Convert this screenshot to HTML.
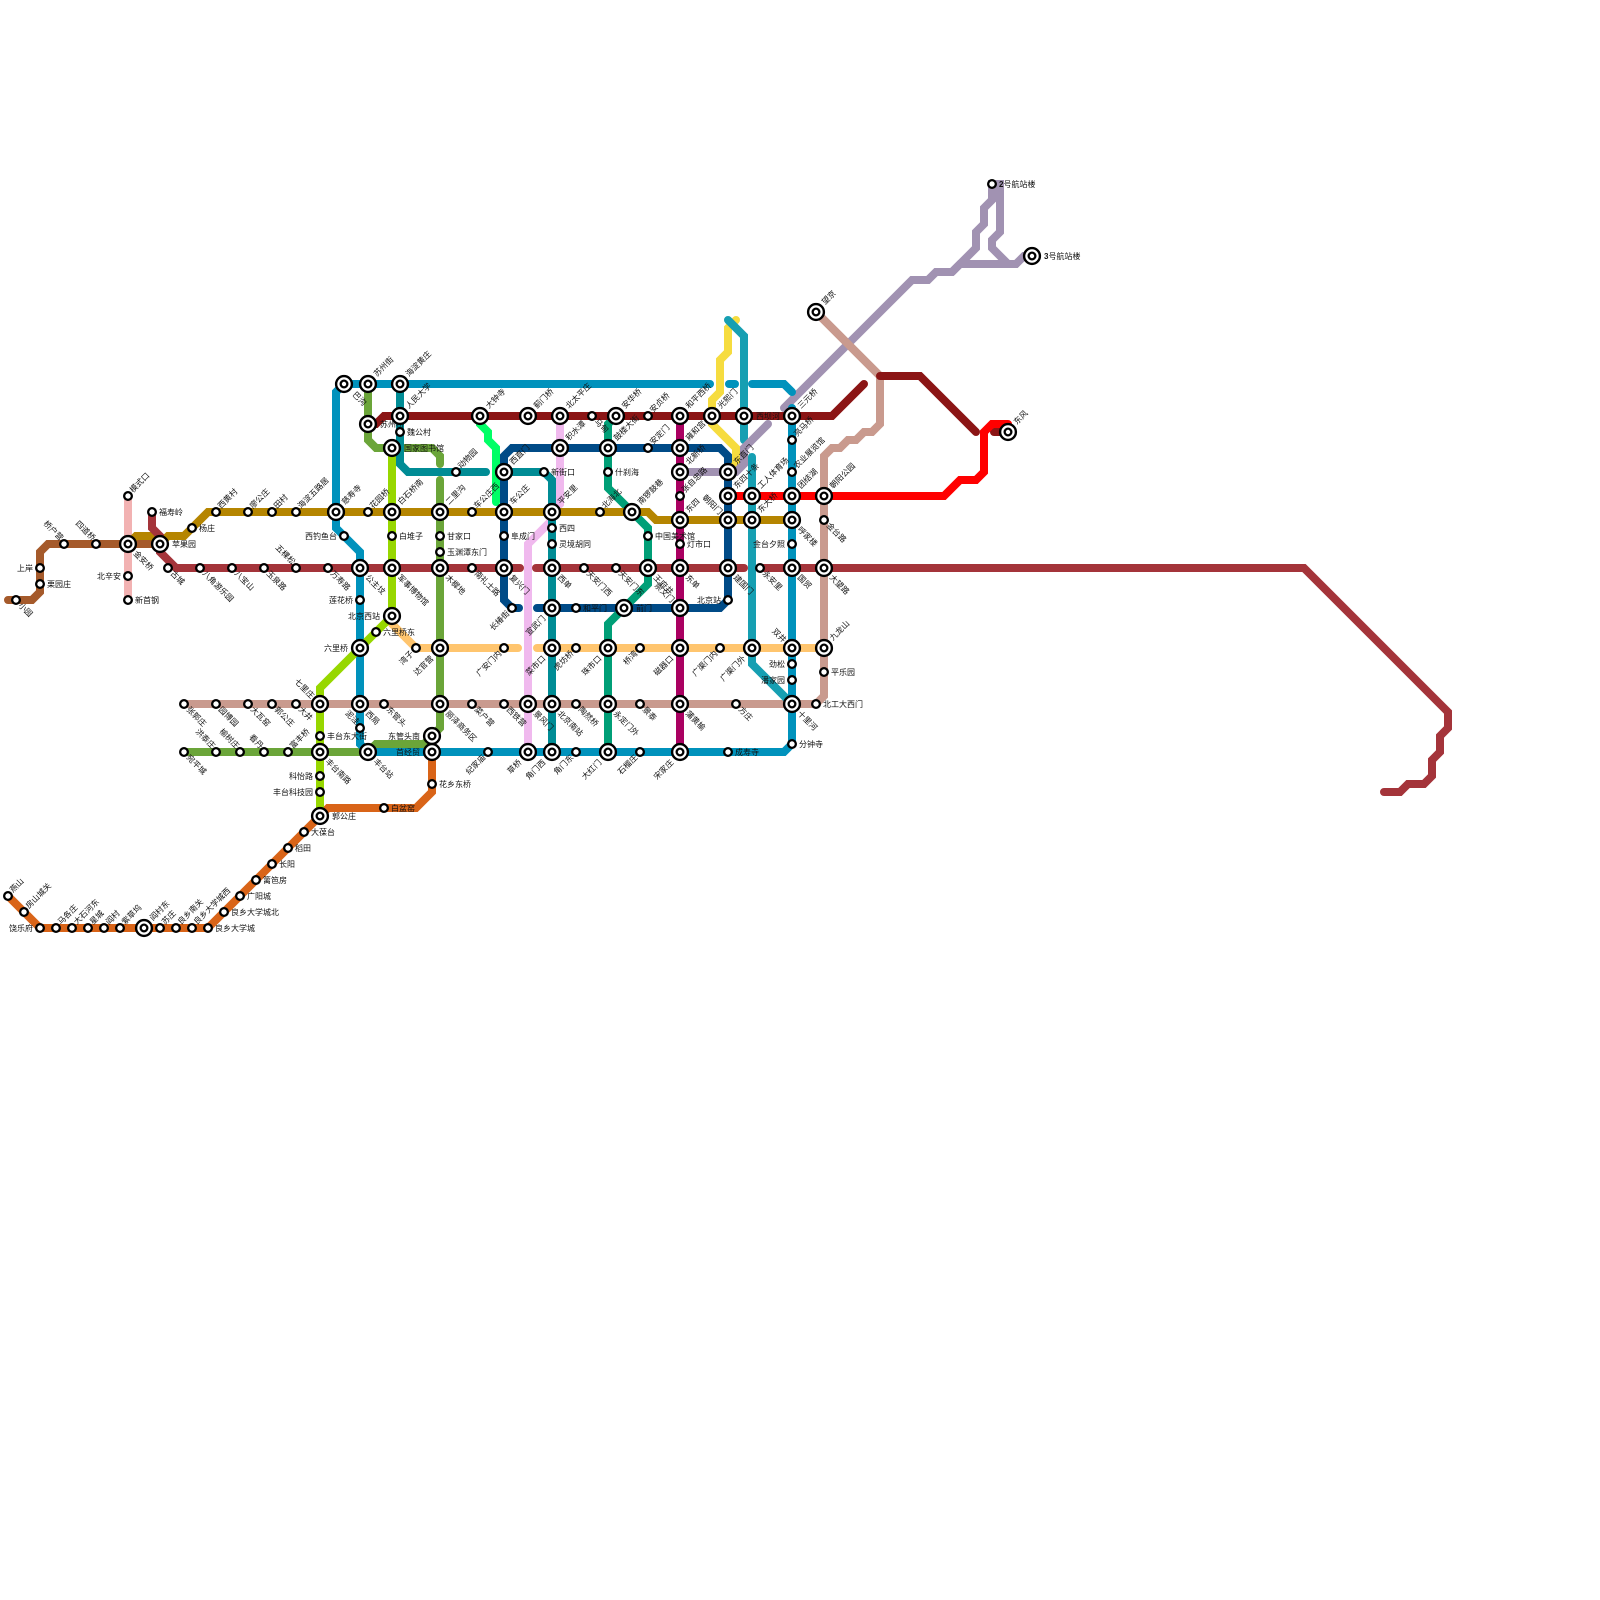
<!DOCTYPE html>
<html><head><meta charset="utf-8"><style>
html,body{margin:0;padding:0;background:#fff}
svg{display:block}
.l{fill:none;stroke-width:8;stroke-linecap:round;stroke-linejoin:miter}
text{font-family:"Liberation Sans","WenQuanYi Zen Hei","Noto Sans CJK SC",sans-serif;font-size:8px;fill:#111}
.e{text-anchor:end}
</style></head><body>
<svg width="1600" height="1600" viewBox="0 0 1600 1600" xmlns="http://www.w3.org/2000/svg">
<defs>
<g id="s"><circle r="3.85" fill="#fff" stroke="#000" stroke-width="2.3"/></g>
<g id="i"><circle r="7.9" fill="#fff" stroke="#000" stroke-width="2.4"/><circle r="3.35" fill="#fff" stroke="#000" stroke-width="2.3"/></g>
</defs>
<g class="lines">
<path class="l" stroke="#F2B2B2" d="M128 496V600"/>
<path class="l" stroke="#A55A2B" d="M8 600H32L40 592V552L48 544H160"/>
<path class="l" stroke="#D96418" d="M8 896L40 928H208L320 816"/>
<path class="l" stroke="#D96418" d="M320 816L328 808H416L432 792V736"/>
<path class="l" stroke="#6BA539" d="M368 384V440L376 448H432L440 456V464"/>
<path class="l" stroke="#6BA539" d="M440 480V728L432 736L424 744H376L368 752H184"/>
<path class="l" stroke="#FFC56E" d="M392 624L416 648H518"/>
<path class="l" stroke="#FFC56E" d="M537 648H824"/>
<path class="l" stroke="#C99A8E" d="M184 704H816L824 696V456L832 448H840L848 440H856L864 432H872L880 424V376L816 312"/>
<path class="l" stroke="#00FF66" d="M480 416V424L488 432V440L496 448V502"/>
<path class="l" stroke="#F0B9EE" d="M560 416V504L552 512V520L528 544V752"/>
<path class="l" stroke="#008C95" d="M400 384V464L408 472H486"/>
<path class="l" stroke="#008C95" d="M504 472H544L552 480V752"/>
<path class="l" stroke="#004B87" d="M512 608L504 600V456L512 448H720L728 456V600L720 608H537"/>
<path class="l" stroke="#004B87" d="M512 608H519"/>
<path class="l" stroke="#009F77" d="M616 416L608 424V488L648 528V584L608 624V752"/>
<path class="l" stroke="#AA0061" d="M680 416V752"/>
<path class="l" stroke="#F6DC3F" d="M736 320L728 328V352L720 360V392L712 400V424L736 448V464L728 472"/>
<path class="l" stroke="#169FB2" d="M728 320L744 336V440"/>
<path class="l" stroke="#169FB2" d="M752 457V664L792 704"/>
<path class="l" stroke="#A192B2" d="M680 472H736L744 464V448L768 424"/>
<path class="l" stroke="#A192B2" d="M784 408L912 280H928L936 272H952L976 248V232L984 224V208L992 200V184H1000V232L992 240V248L1008 264H1016L1024 256H1032"/>
<path class="l" stroke="#A192B2" d="M952 272L960 264H1016"/>
<path class="l" stroke="#C99A8E" d="M816 312L880 376"/>
<path class="l" stroke="#B58500" d="M128 544L136 536H152L160 544L168 536H184L208 512H648L656 520H792"/>
<path class="l" stroke="#A4343A" d="M152 512V528L160 536V552L176 568H520"/>
<path class="l" stroke="#A4343A" d="M536 568H744"/>
<path class="l" stroke="#A4343A" d="M760 568H1304L1448 712V728L1440 736V752L1432 760V776L1424 784H1408L1400 792H1384"/>
<path class="l" stroke="#8B1515" d="M368 424H376L384 416H832L864 384"/>
<path class="l" stroke="#8B1515" d="M880 376H920L976 432"/>
<path class="l" stroke="#8B1515" d="M994 432H1008"/>
<path class="l" stroke="#FF0000" d="M728 496H944L960 480H976L984 472V432L992 424H1008"/>
<path class="l" stroke="#0092BC" d="M344 384L336 392V528L360 552V744L368 752H784L792 744V408"/>
<path class="l" stroke="#0092BC" d="M344 384H710"/>
<path class="l" stroke="#0092BC" d="M729 384H735"/>
<path class="l" stroke="#0092BC" d="M752 384H784L792 392"/>
<path class="l" stroke="#97D700" d="M392 448V616L320 688V816"/>
</g>
<g class="labels">
<text transform="translate(18 606)rotate(45)">小园</text>
<text class="e" x="33" y="571">上岸</text>
<text x="47" y="587">栗园庄</text>
<text class="e" transform="translate(60 541)rotate(45)">桥户营</text>
<text class="e" transform="translate(92 541)rotate(45)">四道桥</text>
<text transform="translate(133 554)rotate(45)">金安桥</text>
<text transform="translate(133 493)rotate(-45)">模式口</text>
<text class="e" x="121" y="579">北辛安</text>
<text x="135" y="603">新首钢</text>
<text x="159" y="515">福寿岭</text>
<text x="172" y="547">苹果园</text>
<text transform="translate(170 574)rotate(45)">古城</text>
<text x="199" y="531">杨庄</text>
<text transform="translate(221 509)rotate(-45)">西黄村</text>
<text transform="translate(253 509)rotate(-45)">廖公庄</text>
<text transform="translate(277 509)rotate(-45)">田村</text>
<text transform="translate(301 509)rotate(-45)">海淀五路居</text>
<text transform="translate(345 505)rotate(-45)">慈寿寺</text>
<text transform="translate(202 574)rotate(45)">八角游乐园</text>
<text transform="translate(234 574)rotate(45)">八宝山</text>
<text transform="translate(266 574)rotate(45)">玉泉路</text>
<text class="e" transform="translate(292 565)rotate(45)">五棵松</text>
<text transform="translate(330 574)rotate(45)">万寿路</text>
<text transform="translate(365 578)rotate(45)">公主坟</text>
<text transform="translate(397 578)rotate(45)">军事博物馆</text>
<text transform="translate(445 578)rotate(45)">木樨地</text>
<text transform="translate(474 574)rotate(45)">南礼士路</text>
<text transform="translate(509 578)rotate(45)">复兴门</text>
<text transform="translate(557 578)rotate(45)">西单</text>
<text transform="translate(586 574)rotate(45)">天安门西</text>
<text transform="translate(618 574)rotate(45)">天安门东</text>
<text transform="translate(653 578)rotate(45)">王府井</text>
<text transform="translate(685 578)rotate(45)">东单</text>
<text transform="translate(733 578)rotate(45)">建国门</text>
<text transform="translate(762 574)rotate(45)">永安里</text>
<text transform="translate(797 578)rotate(45)">国贸</text>
<text transform="translate(829 578)rotate(45)">大望路</text>
<text transform="translate(352 395)rotate(45)">巴沟</text>
<text transform="translate(377 377)rotate(-45)">苏州街</text>
<text transform="translate(409 377)rotate(-45)">海淀黄庄</text>
<text x="380" y="427">苏州桥</text>
<text transform="translate(409 409)rotate(-45)">人民大学</text>
<text x="407" y="435">魏公村</text>
<text x="404" y="451">国家图书馆</text>
<text transform="translate(461 469)rotate(-45)">动物园</text>
<text transform="translate(401 505)rotate(-45)">白石桥南</text>
<text transform="translate(373 509)rotate(-45)">花园桥</text>
<text transform="translate(449 505)rotate(-45)">二里沟</text>
<text transform="translate(477 509)rotate(-45)">车公庄西</text>
<text transform="translate(513 505)rotate(-45)">车公庄</text>
<text x="399" y="539">白堆子</text>
<text x="447" y="539">甘家口</text>
<text x="447" y="555">玉渊潭东门</text>
<text x="511" y="539">阜成门</text>
<text class="e" x="337" y="539">西钓鱼台</text>
<text transform="translate(489 409)rotate(-45)">大钟寺</text>
<text transform="translate(537 409)rotate(-45)">蓟门桥</text>
<text transform="translate(513 465)rotate(-45)">西直门</text>
<text transform="translate(569 409)rotate(-45)">北太平庄</text>
<text transform="translate(569 441)rotate(-45)">积水潭</text>
<text x="551" y="475">新街口</text>
<text transform="translate(561 505)rotate(-45)">平安里</text>
<text x="559" y="531">西四</text>
<text x="559" y="547">灵境胡同</text>
<text transform="translate(594 422)rotate(45)">马甸</text>
<text transform="translate(625 409)rotate(-45)">安华桥</text>
<text transform="translate(653 413)rotate(-45)">安贞桥</text>
<text transform="translate(689 409)rotate(-45)">和平西桥</text>
<text transform="translate(721 409)rotate(-45)">光熙门</text>
<text x="756" y="419">西坝河</text>
<text transform="translate(801 409)rotate(-45)">三元桥</text>
<text transform="translate(617 441)rotate(-45)">鼓楼大街</text>
<text x="615" y="475">什刹海</text>
<text transform="translate(653 445)rotate(-45)">安定门</text>
<text transform="translate(689 441)rotate(-45)">雍和宫</text>
<text transform="translate(689 465)rotate(-45)">北新桥</text>
<text transform="translate(737 465)rotate(-45)">东直门</text>
<text transform="translate(797 437)rotate(-45)">亮马桥</text>
<text transform="translate(797 469)rotate(-45)">农业展览馆</text>
<text transform="translate(685 493)rotate(-45)">张自忠路</text>
<text transform="translate(689 513)rotate(-45)">东四</text>
<text class="e" transform="translate(719 515)rotate(45)">朝阳门</text>
<text transform="translate(737 489)rotate(-45)">东四十条</text>
<text transform="translate(761 489)rotate(-45)">工人体育场</text>
<text transform="translate(761 513)rotate(-45)">东大桥</text>
<text transform="translate(801 489)rotate(-45)">团结湖</text>
<text transform="translate(797 530)rotate(45)">呼家楼</text>
<text transform="translate(833 489)rotate(-45)">朝阳公园</text>
<text transform="translate(826 526)rotate(45)">金台路</text>
<text class="e" x="785" y="547">金台夕照</text>
<text transform="translate(825 305)rotate(-45)">望京</text>
<text transform="translate(641 505)rotate(-45)">南锣鼓巷</text>
<text transform="translate(605 509)rotate(-45)">北海北</text>
<text x="655" y="539">中国美术馆</text>
<text x="687" y="547">灯市口</text>
<text class="e" x="721" y="603">北京站</text>
<text class="e" transform="translate(671 603)rotate(45)">崇文门</text>
<text x="636" y="611">前门</text>
<text x="583" y="611">和平门</text>
<text class="e" transform="translate(546 619)rotate(-45)">宣武门</text>
<text class="e" transform="translate(510 614)rotate(-45)">长椿街</text>
<text class="e" transform="translate(546 659)rotate(-45)">菜市口</text>
<text class="e" transform="translate(574 654)rotate(-45)">虎坊桥</text>
<text class="e" transform="translate(602 659)rotate(-45)">珠市口</text>
<text class="e" transform="translate(638 654)rotate(-45)">桥湾</text>
<text class="e" transform="translate(674 659)rotate(-45)">磁器口</text>
<text class="e" transform="translate(718 654)rotate(-45)">广渠门内</text>
<text class="e" transform="translate(746 659)rotate(-45)">广渠门外</text>
<text class="e" transform="translate(783 643)rotate(45)">双井</text>
<text transform="translate(833 641)rotate(-45)">九龙山</text>
<text class="e" transform="translate(502 654)rotate(-45)">广安门内</text>
<text class="e" transform="translate(434 659)rotate(-45)">达官营</text>
<text class="e" transform="translate(414 654)rotate(-45)">湾子</text>
<text x="383" y="635">六里桥东</text>
<text class="e" x="348" y="651">六里桥</text>
<text class="e" x="380" y="619">北京西站</text>
<text class="e" x="353" y="603">莲花桥</text>
<text class="e" x="785" y="667">劲松</text>
<text class="e" x="785" y="683">潘家园</text>
<text x="831" y="675">平乐园</text>
<text x="823" y="707">北工大西门</text>
<text transform="translate(797 714)rotate(45)">十里河</text>
<text transform="translate(738 710)rotate(45)">方庄</text>
<text x="799" y="747">分钟寺</text>
<text x="735" y="755">成寿寺</text>
<text transform="translate(685 714)rotate(45)">蒲黄榆</text>
<text transform="translate(642 710)rotate(45)">景泰</text>
<text transform="translate(613 714)rotate(45)">永定门外</text>
<text transform="translate(578 710)rotate(45)">陶然桥</text>
<text transform="translate(557 714)rotate(45)">北京南站</text>
<text transform="translate(533 714)rotate(45)">景风门</text>
<text transform="translate(506 710)rotate(45)">西铁营</text>
<text transform="translate(474 710)rotate(45)">菜户营</text>
<text transform="translate(445 714)rotate(45)">丽泽商务区</text>
<text transform="translate(386 710)rotate(45)">东管头</text>
<text transform="translate(365 714)rotate(45)">西局</text>
<text class="e" transform="translate(356 725)rotate(45)">泥洼</text>
<text class="e" transform="translate(311 699)rotate(45)">七里庄</text>
<text transform="translate(298 710)rotate(45)">大井</text>
<text transform="translate(274 710)rotate(45)">郭公庄</text>
<text transform="translate(250 710)rotate(45)">大瓦窑</text>
<text transform="translate(218 710)rotate(45)">园博园</text>
<text transform="translate(186 710)rotate(45)">张郭庄</text>
<text x="327" y="739">丰台东大街</text>
<text class="e" x="420" y="739">东管头南</text>
<text class="e" x="420" y="755">首经贸</text>
<text x="439" y="787">花乡东桥</text>
<text transform="translate(373 762)rotate(45)">丰台站</text>
<text transform="translate(325 762)rotate(45)">丰台南路</text>
<text transform="translate(293 749)rotate(-45)">富丰桥</text>
<text class="e" transform="translate(260 749)rotate(45)">看丹</text>
<text class="e" transform="translate(236 749)rotate(45)">榆树庄</text>
<text class="e" transform="translate(212 749)rotate(45)">洪泰庄</text>
<text transform="translate(186 758)rotate(45)">宛平城</text>
<text class="e" x="313" y="779">科怡路</text>
<text class="e" x="313" y="795">丰台科技园</text>
<text x="332" y="819">郭公庄</text>
<text x="391" y="811">白盆窑</text>
<text class="e" transform="translate(486 758)rotate(-45)">纪家庙</text>
<text class="e" transform="translate(522 763)rotate(-45)">草桥</text>
<text class="e" transform="translate(546 763)rotate(-45)">角门西</text>
<text class="e" transform="translate(574 758)rotate(-45)">角门东</text>
<text class="e" transform="translate(602 763)rotate(-45)">大红门</text>
<text class="e" transform="translate(638 758)rotate(-45)">石榴庄</text>
<text class="e" transform="translate(674 763)rotate(-45)">宋家庄</text>
<text x="311" y="835">大葆台</text>
<text x="295" y="851">稻田</text>
<text x="279" y="867">长阳</text>
<text x="263" y="883">篱笆房</text>
<text x="247" y="899">广阳城</text>
<text x="231" y="915">良乡大学城北</text>
<text x="215" y="931">良乡大学城</text>
<text transform="translate(197 925)rotate(-45)">良乡大学城西</text>
<text transform="translate(181 925)rotate(-45)">良乡南关</text>
<text transform="translate(165 925)rotate(-45)">苏庄</text>
<text transform="translate(153 921)rotate(-45)">阎村东</text>
<text transform="translate(125 925)rotate(-45)">紫草坞</text>
<text transform="translate(109 925)rotate(-45)">阎村</text>
<text transform="translate(93 925)rotate(-45)">星城</text>
<text transform="translate(77 925)rotate(-45)">大石河东</text>
<text transform="translate(61 925)rotate(-45)">马各庄</text>
<text class="e" x="33" y="931">饶乐府</text>
<text transform="translate(29 909)rotate(-45)">房山城关</text>
<text transform="translate(13 893)rotate(-45)">燕山</text>
<text x="999" y="187"><tspan font-weight="bold">2</tspan>号航站楼</text>
<text x="1044" y="259"><tspan font-weight="bold">3</tspan>号航站楼</text>
<text transform="translate(1017 425)rotate(-45)">东风</text>
</g>
<g class="stations">
<use href="#s" x="16" y="600"/><use href="#s" x="40" y="568"/><use href="#s" x="40" y="584"/><use href="#s" x="64" y="544"/><use href="#s" x="96" y="544"/>
<use href="#i" x="128" y="544"/><use href="#s" x="128" y="496"/><use href="#s" x="128" y="576"/><use href="#s" x="128" y="600"/>
<use href="#s" x="152" y="512"/><use href="#i" x="160" y="544"/><use href="#s" x="168" y="568"/><use href="#s" x="192" y="528"/>
<use href="#s" x="216" y="512"/><use href="#s" x="248" y="512"/><use href="#s" x="272" y="512"/><use href="#s" x="296" y="512"/><use href="#i" x="336" y="512"/><use href="#s" x="368" y="512"/><use href="#i" x="392" y="512"/><use href="#i" x="440" y="512"/><use href="#s" x="472" y="512"/><use href="#i" x="504" y="512"/><use href="#i" x="552" y="512"/><use href="#s" x="600" y="512"/><use href="#i" x="632" y="512"/>
<use href="#i" x="680" y="520"/><use href="#i" x="728" y="520"/><use href="#i" x="752" y="520"/><use href="#i" x="792" y="520"/><use href="#s" x="824" y="520"/>
<use href="#s" x="200" y="568"/><use href="#s" x="232" y="568"/><use href="#s" x="264" y="568"/><use href="#s" x="296" y="568"/><use href="#s" x="328" y="568"/><use href="#i" x="360" y="568"/><use href="#i" x="392" y="568"/><use href="#i" x="440" y="568"/><use href="#s" x="472" y="568"/><use href="#i" x="504" y="568"/><use href="#i" x="552" y="568"/><use href="#s" x="584" y="568"/><use href="#s" x="616" y="568"/><use href="#i" x="648" y="568"/><use href="#i" x="680" y="568"/><use href="#i" x="728" y="568"/><use href="#s" x="760" y="568"/><use href="#i" x="792" y="568"/><use href="#i" x="824" y="568"/>
<use href="#i" x="344" y="384"/><use href="#i" x="368" y="384"/><use href="#i" x="400" y="384"/><use href="#i" x="368" y="424"/><use href="#i" x="400" y="416"/><use href="#s" x="400" y="432"/><use href="#i" x="392" y="448"/>
<use href="#s" x="456" y="472"/><use href="#s" x="392" y="536"/><use href="#s" x="440" y="536"/><use href="#s" x="440" y="552"/><use href="#s" x="504" y="536"/><use href="#s" x="344" y="536"/>
<use href="#i" x="480" y="416"/><use href="#i" x="528" y="416"/><use href="#i" x="504" y="472"/><use href="#i" x="560" y="416"/><use href="#i" x="560" y="448"/><use href="#s" x="544" y="472"/><use href="#s" x="552" y="528"/><use href="#s" x="552" y="544"/>
<use href="#s" x="592" y="416"/><use href="#i" x="616" y="416"/><use href="#s" x="648" y="416"/><use href="#i" x="680" y="416"/><use href="#i" x="712" y="416"/><use href="#i" x="744" y="416"/><use href="#i" x="792" y="416"/>
<use href="#i" x="608" y="448"/><use href="#s" x="608" y="472"/><use href="#s" x="648" y="448"/><use href="#i" x="680" y="448"/><use href="#i" x="680" y="472"/><use href="#i" x="728" y="472"/><use href="#s" x="792" y="440"/><use href="#s" x="792" y="472"/><use href="#s" x="680" y="496"/>
<use href="#i" x="728" y="496"/><use href="#i" x="752" y="496"/><use href="#i" x="792" y="496"/><use href="#i" x="824" y="496"/><use href="#s" x="792" y="544"/><use href="#i" x="816" y="312"/>
<use href="#s" x="648" y="536"/><use href="#s" x="680" y="544"/><use href="#s" x="728" y="600"/><use href="#i" x="680" y="608"/><use href="#i" x="624" y="608"/><use href="#s" x="576" y="608"/><use href="#i" x="552" y="608"/><use href="#s" x="512" y="608"/>
<use href="#i" x="552" y="648"/><use href="#s" x="576" y="648"/><use href="#i" x="608" y="648"/><use href="#s" x="640" y="648"/><use href="#i" x="680" y="648"/><use href="#s" x="720" y="648"/><use href="#i" x="752" y="648"/><use href="#i" x="792" y="648"/><use href="#i" x="824" y="648"/><use href="#s" x="504" y="648"/><use href="#i" x="440" y="648"/><use href="#s" x="416" y="648"/><use href="#s" x="376" y="632"/><use href="#i" x="360" y="648"/><use href="#i" x="392" y="616"/><use href="#s" x="360" y="600"/>
<use href="#s" x="792" y="664"/><use href="#s" x="792" y="680"/><use href="#s" x="824" y="672"/><use href="#s" x="816" y="704"/><use href="#i" x="792" y="704"/><use href="#s" x="736" y="704"/><use href="#s" x="792" y="744"/><use href="#s" x="728" y="752"/>
<use href="#i" x="680" y="704"/><use href="#s" x="640" y="704"/><use href="#i" x="608" y="704"/><use href="#s" x="576" y="704"/><use href="#i" x="552" y="704"/><use href="#i" x="528" y="704"/><use href="#s" x="504" y="704"/><use href="#s" x="472" y="704"/><use href="#i" x="440" y="704"/><use href="#s" x="384" y="704"/><use href="#i" x="360" y="704"/><use href="#s" x="360" y="728"/><use href="#i" x="320" y="704"/><use href="#s" x="296" y="704"/><use href="#s" x="272" y="704"/><use href="#s" x="248" y="704"/><use href="#s" x="216" y="704"/><use href="#s" x="184" y="704"/>
<use href="#s" x="320" y="736"/><use href="#i" x="432" y="736"/><use href="#i" x="432" y="752"/><use href="#s" x="432" y="784"/><use href="#i" x="368" y="752"/><use href="#i" x="320" y="752"/><use href="#s" x="288" y="752"/><use href="#s" x="264" y="752"/><use href="#s" x="240" y="752"/><use href="#s" x="216" y="752"/><use href="#s" x="184" y="752"/>
<use href="#s" x="320" y="776"/><use href="#s" x="320" y="792"/><use href="#i" x="320" y="816"/><use href="#s" x="384" y="808"/><use href="#s" x="488" y="752"/><use href="#i" x="528" y="752"/><use href="#i" x="552" y="752"/><use href="#s" x="576" y="752"/><use href="#i" x="608" y="752"/><use href="#s" x="640" y="752"/><use href="#i" x="680" y="752"/>
<use href="#s" x="304" y="832"/><use href="#s" x="288" y="848"/><use href="#s" x="272" y="864"/><use href="#s" x="256" y="880"/><use href="#s" x="240" y="896"/><use href="#s" x="224" y="912"/><use href="#s" x="208" y="928"/><use href="#s" x="192" y="928"/><use href="#s" x="176" y="928"/><use href="#s" x="160" y="928"/><use href="#i" x="144" y="928"/><use href="#s" x="120" y="928"/><use href="#s" x="104" y="928"/><use href="#s" x="88" y="928"/><use href="#s" x="72" y="928"/><use href="#s" x="56" y="928"/><use href="#s" x="40" y="928"/><use href="#s" x="24" y="912"/><use href="#s" x="8" y="896"/>
<use href="#s" x="992" y="184"/><use href="#i" x="1032" y="256"/><use href="#i" x="1008" y="432"/>
</g>
</svg>
</body></html>
